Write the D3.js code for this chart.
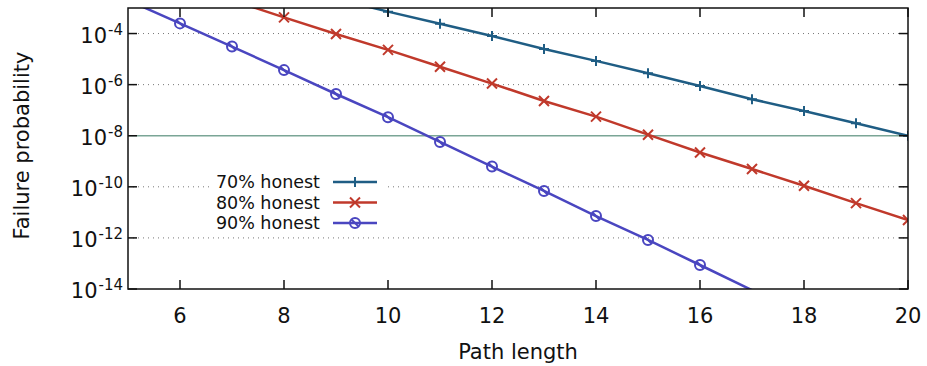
<!DOCTYPE html>
<html>
<head>
<meta charset="utf-8">
<script src="https://cdn.jsdelivr.net/npm/d3@7"></script>
<style>
  body { margin: 0; background: #fff; }
  text { font-family: "DejaVu Sans", sans-serif; fill: #111; }
</style>
</head>
<body>
<div id="chart"></div>
<script>
// path lengths
const pathLengths = [5, 6, 7, 8, 9, 10, 11, 12, 13, 14, 15, 16, 17, 18, 19, 20];

// failure probabilities (values above 1e-3 / below 1e-14 are clipped)
const honest70 = [null, null, null, null, 2.3e-3, 7.2e-4, 2.4e-4, 8e-5, 2.5e-5, 8.5e-6, 2.8e-6, 8.9e-7, 2.7e-7, 9.3e-8, 3.1e-8, 1.0e-8];
const honest80 = [null, null, 2e-3, 4.3e-4, 9.6e-5, 2.3e-5, 5e-6, 1.1e-6, 2.3e-7, 5.6e-8, 1.1e-8, 2.2e-9, 5e-10, 1.1e-10, 2.3e-11, 5e-12];
const honest90 = [2e-3, 2.5e-4, 3.1e-5, 3.7e-6, 4.3e-7, 5.3e-8, 5.7e-9, 6.2e-10, 6.9e-11, 7.2e-12, 8.3e-13, 8.7e-14, 9e-15, null, null, null];

const seriesNames = ['70% honest', '80% honest', '90% honest'];
const seriesColors = ['#1f5d84', '#c0392b', '#4a46c0'];
const seriesMarkers = ['plus', 'cross', 'circle'];
const threshold = 1e-8;

const xTicks = [6, 8, 10, 12, 14, 16, 18, 20];
const yTickExps = [-4, -6, -8, -10, -12, -14];

const width = 927, height = 366;
const margin = { top: 8, right: 19, bottom: 77, left: 128 };
const plotW = width - margin.left - margin.right;
const plotH = height - margin.top - margin.bottom;

const svg = d3.select('#chart').append('svg')
    .attr('width', width)
    .attr('height', height);

const x = d3.scaleLinear().domain([5, 20]).range([0, plotW]);
const y = d3.scaleLog().domain([1e-14, 1e-3]).range([plotH, 0]);

svg.append('defs').append('clipPath').attr('id', 'plot-clip')
    .append('rect').attr('width', plotW).attr('height', plotH);

const g = svg.append('g').attr('transform', `translate(${margin.left},${margin.top})`);

// dotted grid
g.append('g').selectAll('line')
    .data(yTickExps.filter(e => e !== -14 && e !== -8))
    .join('line')
    .attr('x1', 0).attr('x2', plotW)
    .attr('y1', e => y(Math.pow(10, e))).attr('y2', e => y(Math.pow(10, e)))
    .style('stroke', '#777')
    .style('stroke-width', 1)
    .style('stroke-dasharray', '1,4');

// threshold line
g.append('line')
    .attr('x1', 0).attr('x2', plotW)
    .attr('y1', y(threshold)).attr('y2', y(threshold))
    .style('stroke', '#7aa596')
    .style('stroke-width', 1.5);

const allSeries = [honest70, honest80, honest90].map((vals, i) => ({
    name: seriesNames[i],
    color: seriesColors[i],
    marker: seriesMarkers[i],
    values: pathLengths.map((p, j) => ({ x: p, y: vals[j] })).filter(d => d.y !== null)
}));

const line = d3.line().x(d => x(d.x)).y(d => y(d.y));

function drawMarker(sel, type, color) {
    if (type === 'plus') {
        sel.append('path').attr('d', 'M-5,0H5M0,-5V5');
    } else if (type === 'cross') {
        sel.append('path').attr('d', 'M-5,-5L5,5M-5,5L5,-5');
    } else {
        sel.append('circle').attr('r', 5).style('fill', 'none');
        sel.append('path').attr('d', 'M-3.5,-3.5L3.5,3.5');
    }
    sel.selectAll('path, circle')
        .style('stroke', color)
        .style('stroke-width', 2)
        .style('fill', 'none');
}

const plot = g.append('g').attr('clip-path', 'url(#plot-clip)');
allSeries.forEach(s => {
    plot.append('path')
        .datum(s.values)
        .attr('d', line)
        .style('fill', 'none')
        .style('stroke', s.color)
        .style('stroke-width', 2.5);
    plot.selectAll(null)
        .data(s.values.filter(d => d.y <= 1e-3 && d.y >= 1e-14))
        .join('g')
        .attr('transform', d => `translate(${x(d.x)},${y(d.y)})`)
        .each(function () { drawMarker(d3.select(this), s.marker, s.color); });
});

// frame and inward ticks
g.append('rect')
    .attr('width', plotW).attr('height', plotH)
    .style('fill', 'none').style('stroke', '#111').style('stroke-width', 1.5);

const tickLen = 9;
const tickG = g.append('g').style('stroke', '#111').style('stroke-width', 1.5);
xTicks.forEach(t => {
    tickG.append('line').attr('x1', x(t)).attr('x2', x(t)).attr('y1', plotH).attr('y2', plotH - tickLen);
    tickG.append('line').attr('x1', x(t)).attr('x2', x(t)).attr('y1', 0).attr('y2', tickLen);
});
yTickExps.forEach(e => {
    const yy = y(Math.pow(10, e));
    tickG.append('line').attr('x1', 0).attr('x2', tickLen).attr('y1', yy).attr('y2', yy);
    tickG.append('line').attr('x1', plotW).attr('x2', plotW - tickLen).attr('y1', yy).attr('y2', yy);
});

// x tick labels
g.append('g').selectAll('text')
    .data(xTicks)
    .join('text')
    .attr('x', d => x(d))
    .attr('y', plotH + 34)
    .attr('text-anchor', 'middle')
    .style('font-size', '21px')
    .text(d => d);

// y tick labels 10^e
const yLab = g.append('g').selectAll('text')
    .data(yTickExps)
    .join('text')
    .attr('x', -5)
    .attr('y', d => y(Math.pow(10, d)) + 9)
    .attr('text-anchor', 'end')
    .style('font-size', '21px');
yLab.append('tspan').text('10');
yLab.append('tspan')
    .attr('dy', -8)
    .attr('dx', 1)
    .style('font-size', '15px')
    .text(d => '-' + Math.abs(d));

// axis titles
svg.append('text')
    .attr('x', margin.left + plotW / 2)
    .attr('y', 359)
    .attr('text-anchor', 'middle')
    .style('font-size', '21px')
    .text('Path length');

svg.append('text')
    .attr('transform', `translate(29,${margin.top + plotH / 2 - 3}) rotate(-90)`)
    .attr('text-anchor', 'middle')
    .style('font-size', '21px')
    .text('Failure probability');

// legend
const legend = svg.append('g').attr('transform', 'translate(210,171)');
legend.append('rect')
    .attr('width', 175).attr('height', 62)
    .style('fill', '#fff');
const items = legend.selectAll('.legend-item')
    .data(allSeries)
    .join('g')
    .classed('legend-item', true)
    .attr('transform', (d, i) => `translate(0,${11 + i * 20.5})`);
items.append('text')
    .attr('x', 110)
    .attr('y', 6)
    .attr('text-anchor', 'end')
    .style('font-size', '17.5px')
    .text(d => d.name);
items.append('line')
    .attr('x1', 123).attr('x2', 167)
    .style('stroke', d => d.color)
    .style('stroke-width', 2.5);
items.append('g')
    .attr('transform', 'translate(145,0)')
    .each(function (d) { drawMarker(d3.select(this), d.marker, d.color); });
</script>
</body>
</html>
